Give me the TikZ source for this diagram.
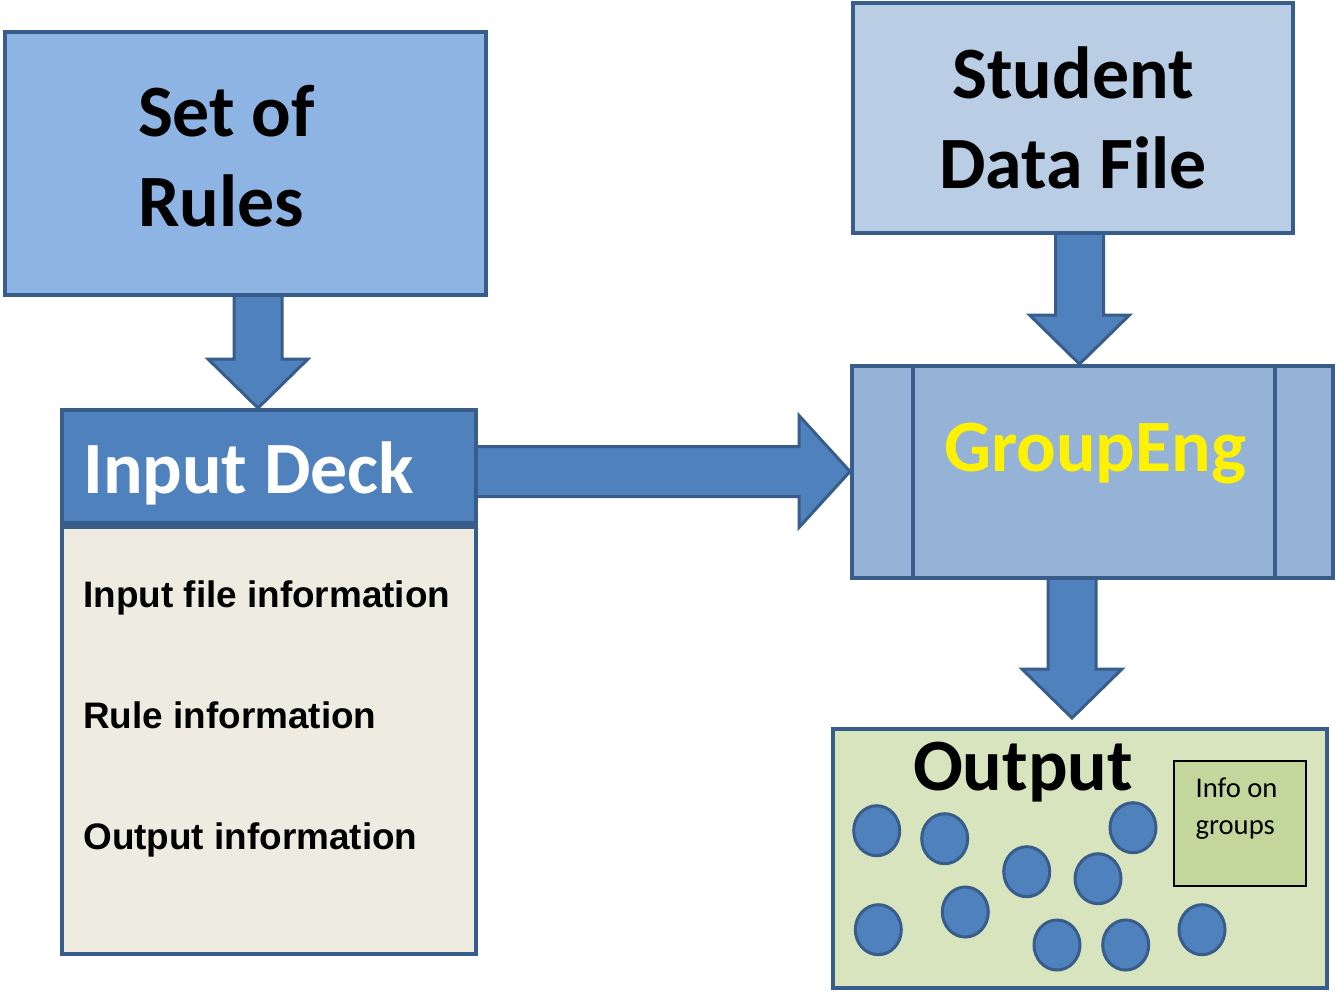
\documentclass[tikz,border=0pt]{standalone}
\usepackage{fontspec}
\setmainfont{Carlito}
\newfontfamily\deckfont{Liberation Sans}[Ligatures=CommonOff]
\usepackage{tikz}
\usetikzlibrary{shapes.geometric,calc,positioning,backgrounds}
\definecolor{boxedge}{RGB}{56,93,138}
\definecolor{rulesblue}{RGB}{142,180,227}
\definecolor{datablue}{RGB}{185,205,229}
\definecolor{headblue}{RGB}{79,129,189}
\definecolor{deckbg}{RGB}{238,236,225}
\definecolor{engblue}{RGB}{149,179,215}
\definecolor{outgreen}{RGB}{215,228,189}
\definecolor{infogreen}{RGB}{195,214,155}
\tikzstyle{bigbox}=[rectangle, draw=boxedge, line width=0.8mm, inner sep=0pt,
  align=center, font=\bfseries\fontsize{42}{51}\selectfont]
\tikzstyle{bigtext}=[font=\bfseries\fontsize{42}{51}\selectfont, align=left, inner sep=0pt]
\tikzstyle{bigarrow}=[draw=boxedge, fill=headblue, line width=0.6mm, line join=miter]
\tikzstyle{grp}=[ellipse, draw=boxedge, fill=headblue, line width=0.6mm,
  minimum width=9.2mm, minimum height=10mm, inner sep=0pt]
% block arrows, #1 = start of shaft, #2 = tip
\newcommand{\dnarrow}[2]{%
  \draw[bigarrow] ($(#1)+(-24,0)$) -- ($(#2)+(-24,-49)$) -- ($(#2)+(-50,-49)$)
    -- (#2) -- ($(#2)+(50,-49)$) -- ($(#2)+(24,-49)$) -- ($(#1)+(24,0)$);}
\newcommand{\rtarrow}[2]{%
  \draw[bigarrow] ($(#1)+(0,-25)$) -- ($(#2)+(-51,-25)$) -- ($(#2)+(-51,-56)$)
    -- (#2) -- ($(#2)+(-51,56)$) -- ($(#2)+(-51,25)$) -- ($(#1)+(0,25)$);}

\begin{document}
\begin{tikzpicture}[x=0.2mm, y=-0.2mm]
  \useasboundingbox (0,0) rectangle (1335,991);

  % left column: rules and input deck
  \node[bigbox, fill=rulesblue, minimum width=96.2mm, minimum height=52.6mm,
    label={[bigtext, xshift=-3.8mm, yshift=1.5mm]center:Set of\\Rules}] (rules) at (245.5,163.5) {};
  \node[bigbox, fill=headblue, minimum width=82.8mm, minimum height=22.6mm,
    label={[bigtext, text=white, anchor=west, xshift=4.6mm, yshift=-1.3mm]west:Input Deck}]
    (head) at (269,466.5) {};
  \node[bigbox, fill=deckbg, minimum width=82.8mm, minimum height=85.4mm, anchor=north,
    label={[anchor=north west, align=left, inner sep=0pt, xshift=4.6mm, yshift=-11mm,
      font=\deckfont\bfseries\fontsize{21}{68.9}\selectfont]north west:Input file information\\Rule information\\Output information}]
    (deck) at (head.south) {};

  % right column: data file, engine, output
  \node[bigbox, fill=datablue, minimum width=88mm, minimum height=46mm] (data) at (1073,118)
    {Student\\Data File};
  \node[bigbox, fill=engblue, minimum width=96.2mm, minimum height=42.4mm,
    label={[bigtext, text=yellow, xshift=0.5mm, yshift=3.6mm]center:GroupEng}] (geng) at (1092.5,472) {};
  \draw[boxedge, line width=0.8mm] ($(geng.north west)+(63,0)$) -- ($(geng.south west)+(63,0)$);
  \draw[boxedge, line width=0.8mm] ($(geng.north east)+(-60,0)$) -- ($(geng.south east)+(-60,0)$);
  \node[bigbox, fill=outgreen, minimum width=98.8mm, minimum height=51.8mm] (out) at (1080,858.5) {};
  \node[bigtext, anchor=base] (outtitle) at (1023,790) {Output};
  \node[draw=black, line width=0.3mm, fill=infogreen, minimum width=26.4mm, minimum height=25mm,
    label={[anchor=north west, align=left, inner sep=0pt, xshift=4.4mm, yshift=-3.4mm,
      font=\fontsize{16.3}{21}\selectfont]north west:Info on\\groups}]
    (info) at (1240,823.5) {};

  % groups
  \foreach \cx/\cy [count=\i] in {876.7/830.7, 944.7/838.7, 1026.7/871.7, 1098/878.7,
      1133/827.7, 878.3/929.7, 965.3/912, 1057/945, 1125.7/945, 1202/929.7}
    \node[grp] (g\i) at (\cx,\cy) {};

  % block arrows under the boxes
  \begin{scope}[on background layer]
    \coordinate (s1) at ($(rules.south)+(12.5,0)$);
    \coordinate (t1) at (s1 |- head.north);
    \dnarrow{s1}{t1}
    \coordinate (s2) at ($(data.south)+(6.5,0)$);
    \coordinate (t2) at (s2 |- geng.north);
    \dnarrow{s2}{t2}
    \coordinate (s3) at ($(geng.south)+(-20.5,0)$);
    \coordinate (t3) at ($(s3 |- out.north)+(0,-9)$);
    \dnarrow{s3}{t3}
    \coordinate (s4) at ($(head.east)+(0,5)$);
    \coordinate (t4) at (s4 -| geng.west);
    \rtarrow{s4}{t4}
  \end{scope}

\end{tikzpicture}
\end{document}
